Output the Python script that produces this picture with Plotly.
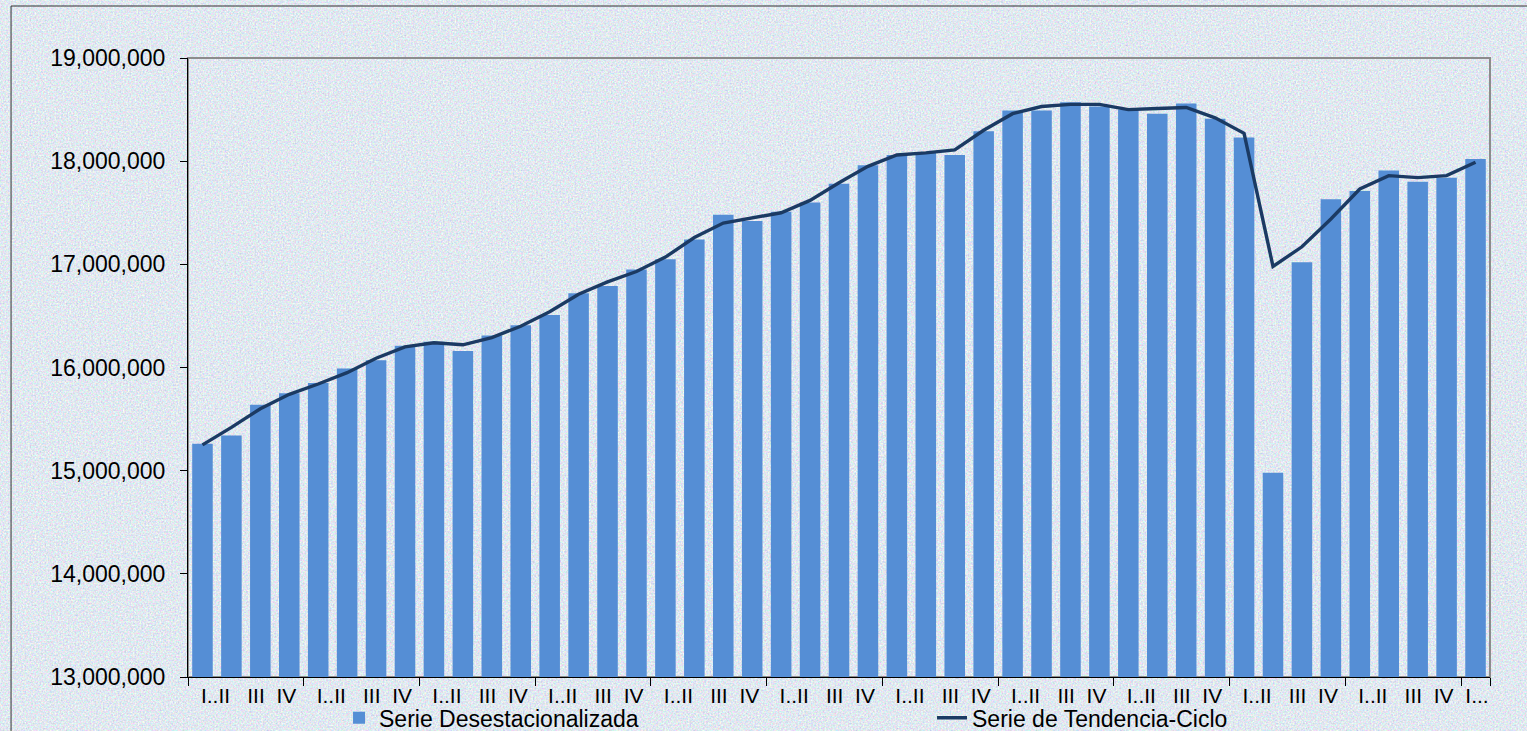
import base64
import plotly.graph_objects as go

# ---- data (millions) ----
quarters = ["I", "II", "III", "IV"] * 11 + ["I"]
deseason_m = [15.26, 15.34, 15.64, 15.75, 15.85, 15.99, 16.07, 16.21, 16.25, 16.16,
              16.31, 16.41, 16.51, 16.72, 16.79, 16.95, 17.05, 17.24, 17.48, 17.42,
              17.51, 17.60, 17.78, 17.96, 18.06, 18.09, 18.06, 18.29, 18.49, 18.49,
              18.57, 18.53, 18.50, 18.46, 18.56, 18.41, 18.23, 14.98, 17.02, 17.63,
              17.71, 17.91, 17.80, 17.84, 18.02]
trend_m = [15.25, 15.42, 15.60, 15.74, 15.84, 15.95, 16.09, 16.20, 16.24, 16.22,
           16.29, 16.40, 16.54, 16.71, 16.83, 16.93, 17.07, 17.26, 17.40, 17.45,
           17.50, 17.62, 17.79, 17.95, 18.06, 18.08, 18.11, 18.30, 18.46, 18.53,
           18.55, 18.55, 18.50, 18.51, 18.52, 18.42, 18.27, 16.98, 17.17, 17.44,
           17.73, 17.86, 17.84, 17.86, 17.99]
year_tick_text = ["I..II", "III", "IV"]
last_tick_text = "I..."
y_ticks_m = [13, 14, 15, 16, 17, 18, 19]

deseason = [v * 1_000_000 for v in deseason_m]
trend = [v * 1_000_000 for v in trend_m]
x_idx = list(range(len(deseason)))

# tick label positions derived from quarter structure
tickvals, ticktext = [], []
for i, q in enumerate(quarters):
    if q == "I":
        if i + 1 < len(quarters):
            tickvals.append(i + 0.45); ticktext.append(year_tick_text[0])
        else:
            tickvals.append(i + 0.05); ticktext.append(last_tick_text)
    elif q == "III":
        tickvals.append(i - 0.15); ticktext.append(year_tick_text[1])
    elif q == "IV":
        tickvals.append(i - 0.1); ticktext.append(year_tick_text[2])
boundaries = [i - 0.5 for i, q in enumerate(quarters) if q == "I"] + [len(quarters) - 0.5]

BAR = "#558ED5"
LINE = "#1B3A63"
BG = "#dce5ef"
FONT = "Liberation Sans, Arial, sans-serif"

W, H = 1527, 731
ML, MR, MT, MB = 188, 37, 58, 54
PW, PH = W - ML - MR, H - MT - MB

# pastel paper texture (background decoration only)
svg = (
    f"<svg xmlns='http://www.w3.org/2000/svg' width='{W}' height='{H}' "
    f"viewBox='0 0 {W} {H}' preserveAspectRatio='none'>"
    "<filter id='n' x='0' y='0' width='100%' height='100%' "
    "color-interpolation-filters='sRGB'>"
    "<feTurbulence type='fractalNoise' baseFrequency='0.6' numOctaves='2' seed='7'/>"
    "<feColorMatrix type='matrix' values='0.42 0 0 0 0.67  0 0.36 0 0 0.73  "
    "0 0 0.26 0 0.81  0 0 0 0 1'/></filter>"
    f"<rect width='{W}' height='{H}' fill='{BG}' filter='url(#n)'/></svg>"
)
texture = "data:image/svg+xml;base64," + base64.b64encode(svg.encode()).decode()

fig = go.Figure()
fig.add_trace(go.Bar(x=x_idx, y=deseason, name="Serie Desestacionalizada",
                     marker=dict(color=BAR, line=dict(width=0)), width=0.71))
fig.add_trace(go.Scatter(x=x_idx, y=trend, name="Serie de Tendencia-Ciclo", mode="lines",
                         line=dict(color=LINE, width=3.4)))

fig.update_layout(
    width=W, height=H,
    margin=dict(l=ML, r=MR, t=MT, b=MB, autoexpand=False),
    paper_bgcolor=BG, plot_bgcolor="rgba(0,0,0,0)",
    font=dict(family=FONT, size=22, color="#000000"),
    showlegend=True,
    legend=dict(orientation="h", x=0.116, xanchor="left", y=-0.066, yanchor="middle",
                bgcolor="rgba(0,0,0,0)", font=dict(size=23), entrywidth=548,
                itemwidth=30, tracegroupgap=0),
    images=[dict(source=texture, xref="paper", yref="paper",
                 x=-ML / PW, y=1 + MT / PH, sizex=W / PW, sizey=H / PH,
                 xanchor="left", yanchor="top", sizing="stretch", layer="below")],
    shapes=[
        dict(type="rect", xref="paper", yref="paper", x0=0, x1=1, y0=0, y1=1,
             line=dict(color="#8c8c8c", width=2), layer="below"),
        dict(type="rect", xref="paper", yref="paper", x0=-0.1359, x1=1.2, y0=-0.3, y1=1.084,
             line=dict(color="#333333", width=1), layer="below"),
    ],
)
fig.update_xaxes(range=[-0.5, len(quarters) - 0.5], tickmode="array", tickvals=tickvals,
                 ticktext=ticktext, ticks="", showgrid=False, zeroline=False,
                 showline=True, linecolor="#000000", linewidth=1,
                 tickfont=dict(size=21), ticklabelstandoff=0,
                 minor=dict(tickmode="array", tickvals=boundaries, ticks="outside",
                            ticklen=8, tickcolor="#000000", showgrid=False))
fig.update_yaxes(range=[13_000_000, 19_000_000], tickmode="array",
                 tickvals=[v * 1_000_000 for v in y_ticks_m], tickformat=",d",
                 ticks="outside", ticklen=7, tickcolor="#000000", showgrid=False,
                 zeroline=False, showline=True, linecolor="#000000", linewidth=1,
                 tickfont=dict(size=23), ticklabelstandoff=10)

fig.write_html("out.html", config={"displayModeBar": False},
               post_script="document.body.style.margin='0';")
